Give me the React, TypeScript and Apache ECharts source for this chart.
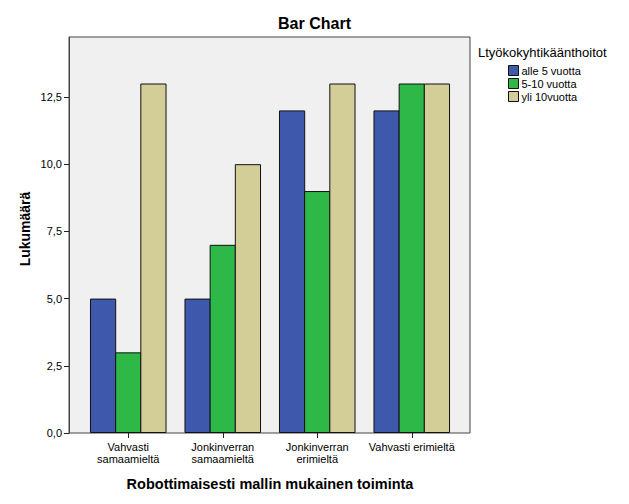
import React, { useEffect, useRef } from "react";
import * as echarts from "echarts";

const categories = [
  "Vahvasti\nsamaamieltä",
  "Jonkinverran\nsamaamieltä",
  "Jonkinverran\nerimieltä",
  "Vahvasti erimieltä",
];
const seriesNames = ["alle 5 vuotta", "5-10 vuotta", "yli 10vuotta"];
const alle5 = [5, 5, 12, 12];
const v5to10 = [3, 7, 9, 13];
const yli10 = [13, 10, 13, 13];
const yTicks = [0, 2.5, 5, 7.5, 10, 12.5];
const colors = ["#3E58AC", "#2EB848", "#D3CE97"];

export default function App() {
  const ref = useRef<HTMLDivElement>(null);
  useEffect(() => {
    if (!ref.current) return;
    const chart = echarts.init(ref.current, undefined, { renderer: "svg" });
    const font = "Liberation Sans, Arial, sans-serif";
    const data = [alle5, v5to10, yli10];
    const yMax = 14.73;
    chart.setOption({
      animation: false,
      backgroundColor: "#ffffff",
      textStyle: { fontFamily: font },
      title: [
        {
          text: "Bar Chart",
          left: "center",
          top: 15,
          padding: 0,
          textStyle: { fontSize: 16, fontWeight: "bold", color: "#000", fontFamily: font },
        },
        {
          text: "Ltyökokyhtikäänthoitot",
          left: 478,
          top: 46,
          padding: 0,
          textStyle: { fontSize: 13, fontWeight: "normal", color: "#000", fontFamily: font },
        },
      ],
      legend: {
        orient: "vertical",
        left: 508,
        top: 65,
        padding: 0,
        itemWidth: 10,
        itemHeight: 10,
        itemGap: 2,
        icon: "rect",
        itemStyle: { borderColor: "#111", borderWidth: 1 },
        textStyle: { fontSize: 11, color: "#000", fontFamily: font, padding: [0, 0, 0, -2] },
        data: seriesNames,
      },
      graphic: [
        {
          type: "text",
          x: 25,
          y: 229,
          rotation: Math.PI / 2,
          style: {
            text: "Lukumäärä",
            font: "bold 14px " + font,
            fill: "#000",
            textAlign: "center",
            textVerticalAlign: "middle",
          },
        },
      ],
      grid: [
        {
          left: 69,
          right: 159,
          top: 37,
          bottom: 71,
          show: true,
          backgroundColor: "#F0F0F0",
          borderColor: "#444444",
          borderWidth: 1,
        },
        {
          left: 81,
          right: 170,
          top: 37,
          bottom: 71,
        },
      ],
      xAxis: [
        { type: "value", gridIndex: 0, show: false, min: 0, max: 1 },
        {
          type: "category",
          gridIndex: 1,
          data: categories,
          name: "Robottimaisesti mallin mukainen toiminta",
          nameLocation: "middle",
          nameGap: 43,
          nameTextStyle: { fontSize: 14.5, fontWeight: "bold", color: "#000", fontFamily: font },
          axisLine: { show: false },
          axisTick: { show: true, alignWithLabel: true, length: 5, lineStyle: { color: "#222" } },
          axisLabel: { fontSize: 11, color: "#000", margin: 8, lineHeight: 12, interval: 0, fontFamily: font },
        },
      ],
      yAxis: [
        {
          type: "value",
          gridIndex: 0,
          min: 0,
          max: yMax,
          interval: 2.5,
          splitLine: { show: false },
          axisLine: { show: true, lineStyle: { color: "#444444" } },
          axisTick: { show: true, length: 5, lineStyle: { color: "#222" }, customValues: yTicks },
          axisLabel: {
            fontSize: 11,
            color: "#000",
            margin: 7,
            fontFamily: font,
            customValues: yTicks,
            formatter: (v: number) => v.toFixed(1).replace(".", ","),
          },
        },
        { type: "value", gridIndex: 1, min: 0, max: yMax, show: false, splitLine: { show: false } },
      ],
      series: seriesNames.map((n, i) => ({
        name: n,
        type: "bar",
        xAxisIndex: 1,
        yAxisIndex: 1,
        data: data[i],
        barGap: "-3.9%",
        barCategoryGap: "19%",
        itemStyle: { color: colors[i], borderColor: "#111", borderWidth: 1 },
      })),
    });
    return () => chart.dispose();
  }, []);
  return <div ref={ref} style={{ width: 629, height: 504, position: "absolute", left: 0, top: 0 }} />;
}
